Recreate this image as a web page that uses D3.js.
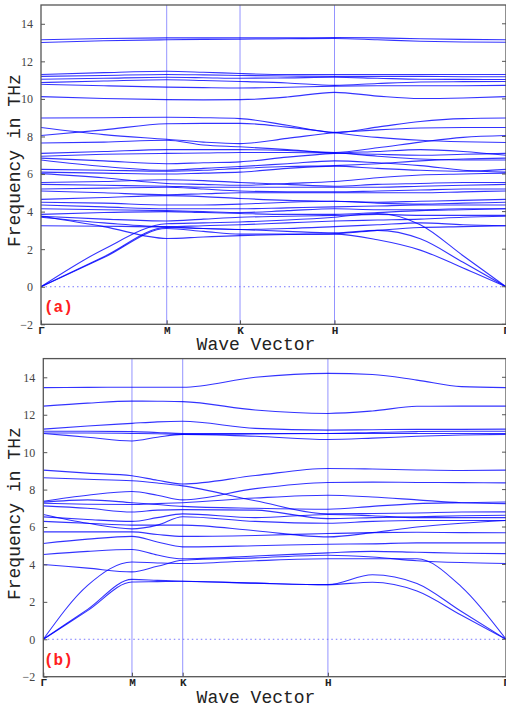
<!DOCTYPE html>
<html>
<head>
<meta charset="utf-8">
<script src="https://cdn.jsdelivr.net/npm/d3@7"></script>
<style>
  body { margin: 0; background: #fff; }
  svg { display: block; }
</style>
</head>
<body>
<svg id="chart" width="506" height="707"></svg>
<script>
// high-symmetry points along the path (fraction of path length)
const kLabels = ["Γ", "M", "K", "H", "Γ"];
const kTicksA = [0, 0.2703, 0.4280, 0.6312, 1];
const kTicksB = [0, 0.1916, 0.3013, 0.6151, 1];

const yTicks = [-2, 0, 2, 4, 6, 8, 10, 12, 14];

// each band: Γ, ½ΓM, M, ½MK, K, ½KH, H, ¼HΓ, ½HΓ, ¾HΓ, Γ  (THz)
const bandsA = [
  [13.15, 13.22, 13.25, 13.25, 13.25, 13.25, 13.27, 13.25, 13.2, 13.17, 13.15],
  [13.0, 13.1, 13.15, 13.17, 13.18, 13.2, 13.22, 13.15, 13.07, 13.03, 13.02],
  [11.3, 11.4, 11.47, 11.42, 11.35, 11.3, 11.3, 11.3, 11.3, 11.3, 11.3],
  [11.2, 11.25, 11.3, 11.28, 11.25, 11.22, 11.2, 11.2, 11.2, 11.18, 11.18],
  [11.05, 11.1, 11.15, 11.13, 11.1, 11.12, 11.15, 11.1, 11.05, 11.04, 11.03],
  [10.87, 10.95, 11.02, 10.98, 10.93, 10.85, 10.72, 10.82, 10.9, 10.92, 10.93],
  [10.78, 10.7, 10.63, 10.6, 10.58, 10.62, 10.68, 10.7, 10.7, 10.7, 10.72],
  [10.12, 10.02, 9.96, 9.95, 9.96, 10.1, 10.35, 10.15, 10.02, 10.05, 10.12],
  [8.98, 9.0, 9.02, 9.0, 8.95, 8.6, 8.22, 8.5, 8.8, 8.95, 8.98],
  [8.48, 8.1, 7.85, 7.7, 7.62, 7.9, 8.2, 8.35, 8.45, 8.48, 8.48],
  [8.05, 8.35, 8.68, 8.7, 8.7, 8.5, 8.2, 7.95, 7.8, 7.72, 7.68],
  [7.65, 7.7, 7.8, 7.55, 7.45, 7.3, 7.15, 7.4, 7.7, 7.95, 8.05],
  [7.1, 7.2, 7.3, 7.3, 7.3, 7.25, 7.12, 7.05, 7.0, 7.05, 7.1],
  [6.95, 7.05, 7.1, 7.12, 7.15, 7.15, 7.12, 6.95, 6.8, 6.75, 6.75],
  [6.85, 6.7, 6.55, 6.6, 6.65, 6.9, 7.1, 7.2, 7.3, 7.2, 7.0],
  [6.75, 6.4, 6.2, 6.3, 6.4, 6.55, 6.7, 6.6, 6.45, 6.2, 6.1],
  [6.25, 6.2, 6.15, 6.2, 6.3, 6.4, 6.45, 6.55, 6.7, 6.8, 6.85],
  [6.1, 6.05, 6.0, 6.05, 6.1, 6.3, 6.42, 6.3, 6.2, 6.15, 6.25],
  [6.02, 5.8, 5.5, 5.45, 5.4, 5.5, 5.6, 5.8, 5.95, 6.0, 6.05],
  [5.55, 5.6, 5.7, 5.65, 5.55, 5.45, 5.35, 5.45, 5.5, 5.55, 5.55],
  [5.45, 5.4, 5.35, 5.3, 5.3, 5.3, 5.3, 5.3, 5.35, 5.4, 5.45],
  [5.2, 5.25, 5.3, 5.2, 5.1, 5.05, 5.05, 5.1, 5.15, 5.2, 5.2],
  [5.1, 5.0, 4.9, 4.95, 5.0, 5.0, 5.0, 5.0, 5.0, 5.05, 5.1],
  [4.65, 4.75, 4.85, 4.8, 4.7, 4.6, 4.55, 4.5, 4.55, 4.6, 4.65],
  [4.5, 4.45, 4.35, 4.35, 4.4, 4.5, 4.55, 4.45, 4.4, 4.45, 4.5],
  [4.35, 4.25, 4.15, 4.15, 4.15, 4.2, 4.25, 4.3, 4.35, 4.35, 4.35],
  [4.15, 4.1, 4.05, 4.0, 3.95, 4.05, 4.15, 4.1, 4.1, 4.15, 4.15],
  [3.85, 3.95, 4.0, 3.95, 3.9, 3.85, 3.85, 3.95, 4.05, 4.1, 4.15],
  [3.75, 3.6, 3.5, 3.6, 3.7, 3.75, 3.8, 3.85, 3.8, 3.8, 3.8],
  [3.7, 3.4, 3.2, 3.25, 3.3, 3.4, 3.5, 3.55, 3.6, 3.7, 3.75],
  [3.25, 3.22, 3.18, 3.1, 3.05, 3.1, 3.2, 3.3, 3.4, 3.3, 3.25],
  [3.75, 3.2, 2.57, 2.65, 2.72, 2.78, 2.82, 3.0, 3.15, 3.2, 3.25],
  [0, 2.0, 3.35, 3.4, 3.45, 3.55, 3.7, 3.9, 3.3, 1.65, 0],
  [0, 1.6, 3.15, 3.1, 3.05, 2.95, 2.87, 3.0, 2.55, 1.3, 0],
  [0, 1.55, 3.1, 2.95, 2.8, 2.8, 2.8, 2.5, 1.95, 1.0, 0]
];

const bandsB = [
  [13.45, 13.46, 13.47, 13.47, 13.47, 14.0, 14.21, 14.15, 13.85, 13.5, 13.45],
  [12.46, 12.62, 12.73, 12.72, 12.7, 12.25, 12.07, 12.2, 12.45, 12.46, 12.46],
  [11.23, 11.4, 11.54, 11.62, 11.65, 11.27, 11.18, 11.2, 11.22, 11.22, 11.23],
  [11.12, 11.12, 11.1, 11.05, 11.0, 11.0, 11.0, 11.05, 11.1, 11.12, 11.12],
  [11.02, 11.02, 11.0, 10.98, 10.95, 10.97, 11.0, 11.0, 11.0, 11.0, 11.0],
  [11.0, 10.8, 10.6, 10.8, 10.95, 10.85, 10.68, 10.75, 10.85, 10.92, 10.95],
  [9.04, 8.88, 8.74, 8.5, 8.3, 8.75, 9.13, 9.1, 9.05, 9.02, 9.04],
  [8.63, 8.55, 8.47, 8.35, 8.2, 7.4, 6.7, 6.72, 6.75, 6.8, 6.81],
  [7.38, 7.7, 7.9, 7.7, 7.45, 8.05, 8.38, 8.4, 8.38, 8.37, 8.36],
  [7.33, 7.45, 7.3, 7.2, 7.1, 7.0, 6.95, 7.1, 7.25, 7.3, 7.34],
  [7.27, 7.22, 7.2, 7.25, 7.3, 7.55, 7.7, 7.6, 7.45, 7.3, 7.25],
  [7.13, 7.0, 6.8, 6.9, 6.93, 6.9, 6.45, 6.5, 6.55, 6.6, 6.63],
  [6.67, 6.2, 5.9, 6.1, 6.55, 6.3, 6.2, 6.3, 6.35, 6.35, 6.35],
  [6.54, 6.4, 6.3, 6.5, 6.7, 6.5, 6.67, 6.6, 6.5, 6.5, 6.5],
  [6.3, 6.2, 6.1, 6.1, 6.1, 5.8, 5.47, 5.7, 6.0, 6.2, 6.35],
  [5.74, 5.74, 5.74, 5.6, 5.5, 5.55, 5.65, 5.7, 5.72, 5.7, 5.69],
  [5.12, 5.35, 5.5, 5.2, 4.94, 5.0, 5.08, 5.1, 5.15, 5.15, 5.15],
  [4.53, 4.7, 4.8, 4.5, 4.3, 4.45, 4.62, 4.7, 4.65, 4.6, 4.58],
  [4.0, 3.8, 3.6, 3.9, 4.22, 4.35, 4.49, 4.4, 4.2, 4.1, 4.05],
  [0, 2.88, 4.13, 4.08, 4.05, 4.2, 4.3, 4.3, 4.3, 2.8, 0],
  [0, 1.6, 3.2, 3.15, 3.1, 3.0, 2.92, 3.45, 2.98, 1.48, 0],
  [0, 1.53, 3.06, 3.08, 3.1, 3.0, 2.92, 3.05, 2.58, 1.28, 0]
];

const panels = [
  { bands: bandsA, ticks: kTicksA, left: 41, right: 506, top: 5, bottom: 324.3, tag: "(a)" },
  { bands: bandsB, ticks: kTicksB, left: 43.3, right: 506, top: 358.6, bottom: 676.7, tag: "(b)" }
];

const svg = d3.select("#chart");

// sample positions inside each segment
function samplePositions(t) {
  const seg = (a, b, f) => t[a] + (t[b] - t[a]) * f;
  return [t[0], seg(0, 1, 0.5), t[1], seg(1, 2, 0.5), t[2], seg(2, 3, 0.5), t[3],
          seg(3, 4, 0.25), seg(3, 4, 0.5), seg(3, 4, 0.75), t[4]];
}

panels.forEach(p => {
  const x = d3.scaleLinear().domain([0, 1]).range([p.left, p.right]);
  const y = d3.scaleLinear().domain([-2, 15]).range([p.bottom, p.top]);
  const pos = samplePositions(p.ticks);

  const g = svg.append("g");

  const clipId = "clip" + p.tag.replace(/\W/g, "");
  svg.append("clipPath").attr("id", clipId)
    .append("rect").attr("x", p.left).attr("y", p.top)
    .attr("width", p.right - p.left).attr("height", p.bottom - p.top);

  // zero line
  g.append("line")
    .attr("x1", x(0)).attr("x2", x(1))
    .attr("y1", y(0)).attr("y2", y(0))
    .attr("stroke", "#7777ff").attr("stroke-width", 1)
    .attr("stroke-dasharray", "1.5,3");

  // vertical lines at high-symmetry points
  g.selectAll(".kline")
    .data(p.ticks.slice(1, 4))
    .enter()
    .append("line")
    .attr("x1", d => x(d)).attr("x2", d => x(d))
    .attr("y1", p.top).attr("y2", p.bottom)
    .attr("stroke", "#7070ff").attr("stroke-opacity", 0.75).attr("stroke-width", 1);

  const line = d3.line()
    .x((d, i) => x(pos[i]))
    .y(d => y(d))
    .curve(d3.curveMonotoneX);

  g.append("g").attr("clip-path", `url(#${clipId})`)
    .selectAll("path")
    .data(p.bands)
    .enter()
    .append("path")
    .attr("d", line)
    .attr("fill", "none")
    .attr("stroke", "#0000ff")
    .attr("stroke-opacity", 0.8)
    .attr("stroke-width", 1.1);

  // frame
  g.append("rect")
    .attr("x", p.left).attr("y", p.top)
    .attr("width", p.right - p.left).attr("height", p.bottom - p.top)
    .attr("fill", "none").attr("stroke", "#555").attr("stroke-width", 1.3);

  // y axis (ticks inside)
  const yAxis = d3.axisLeft(y).tickValues(yTicks).tickSize(-4).tickPadding(8)
    .tickFormat(d => d < 0 ? "\u2212" + Math.abs(d) : d);
  const ya = g.append("g").attr("transform", `translate(${p.left},0)`).call(yAxis);
  ya.select(".domain").remove();
  ya.selectAll("line").attr("stroke", "#555");
  ya.selectAll("text").attr("font-family", "Liberation Serif, serif")
    .attr("font-size", 12).attr("fill", "#444");

  // right ticks
  g.selectAll(".rt")
    .data(yTicks)
    .enter()
    .append("line")
    .attr("x1", p.right - 4).attr("x2", p.right)
    .attr("y1", d => y(d)).attr("y2", d => y(d))
    .attr("stroke", "#555");

  // x axis
  const xAxis = d3.axisBottom(x).tickValues(p.ticks).tickSize(-4).tickPadding(2)
    .tickFormat((d, i) => kLabels[i]);
  const xa = g.append("g").attr("transform", `translate(0,${p.bottom})`).call(xAxis);
  xa.select(".domain").remove();
  xa.selectAll("line").attr("stroke", "#555");
  xa.selectAll("text").attr("font-family", "Liberation Mono, monospace")
    .attr("font-weight", "bold").attr("font-size", 11).attr("fill", "#222");

  // axis titles
  g.append("text")
    .attr("x", 256).attr("y", p.bottom + 26)
    .attr("text-anchor", "middle")
    .attr("font-family", "Liberation Mono, monospace")
    .attr("font-size", 18).attr("fill", "#222")
    .text("Wave Vector");

  g.append("text")
    .attr("transform", `translate(20,${(p.top + p.bottom) / 2 - 4}) rotate(-90)`)
    .attr("text-anchor", "middle")
    .attr("font-family", "Liberation Mono, monospace")
    .attr("font-size", 18).attr("fill", "#222")
    .text("Frequency in THz");

  // panel tag
  g.append("text")
    .attr("x", 44).attr("y", p.bottom - 12)
    .attr("font-family", "Liberation Mono, monospace")
    .attr("font-weight", "bold")
    .attr("font-size", 16).attr("fill", "#ff2020")
    .text(p.tag);
});
</script>
</body>
</html>
